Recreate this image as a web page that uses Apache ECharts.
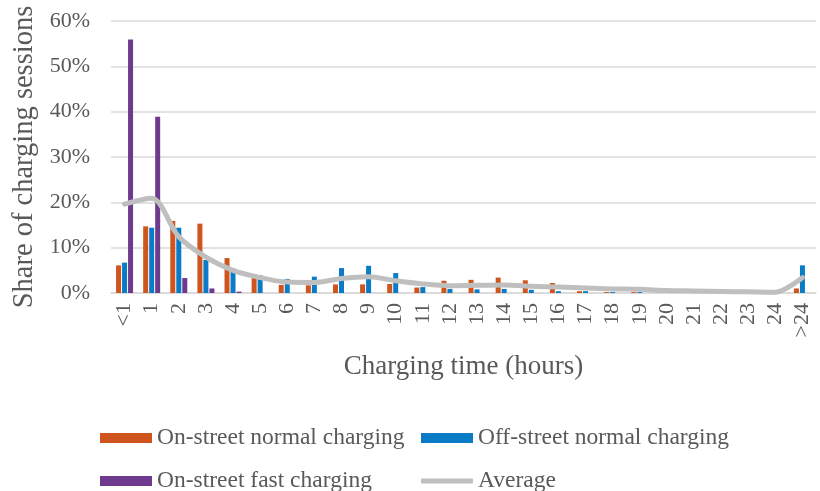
<!DOCTYPE html>
<html>
<head>
<meta charset="utf-8">
<script src="https://cdn.jsdelivr.net/npm/echarts@6/dist/echarts.min.js"></script>
<style>
  html, body { margin: 0; padding: 0; background: #ffffff; }
  #chart { width: 820px; height: 491px; }
</style>
</head>
<body>
<div id="chart"></div>
<script>
// Charging duration buckets (hours)
const categories = ['<1', '1', '2', '3', '4', '5', '6', '7', '8', '9', '10', '11', '12',
  '13', '14', '15', '16', '17', '18', '19', '20', '21', '22', '23', '24', '>24'];

// Share of charging sessions per bucket (%)
const onStreetNormal = [6.1, 14.7, 15.9, 15.3, 7.7, 4.2, 1.8, 1.7, 1.9, 1.9, 2.0, 1.2, 2.7,
  2.9, 3.4, 2.8, 2.2, 0.4, 0.2, 0.2, 0, 0, 0, 0, 0, 1.0];
const offStreetNormal = [6.7, 14.4, 14.4, 7.3, 5.4, 3.9, 3.1, 3.6, 5.5, 6.0, 4.4, 1.3, 0.9,
  0.8, 0.9, 0.7, 0.4, 0.4, 0.2, 0.2, 0, 0, 0, 0, 0, 6.1];
const onStreetFast = [55.9, 38.9, 3.3, 1.0, 0.3, 0, 0, 0, 0, 0, 0, 0, 0,
  0, 0, 0, 0, 0, 0, 0, 0, 0, 0, 0, 0, 0];
const average = [19.6, 20.9, 12.4, 7.9, 5.0, 3.4, 2.4, 2.3, 3.2, 3.6, 2.7, 2.0, 1.6,
  1.7, 1.75, 1.5, 1.3, 1.1, 0.9, 0.8, 0.55, 0.45, 0.35, 0.25, 0.15, 3.4];

const yTicks = { min: 0, max: 60, interval: 10 };

const FONT = '"Liberation Serif", "Times New Roman", serif';
const TEXT = '#595959';
const GRID = '#D9D9D9';
const C_ORANGE = '#CF541D';
const C_BLUE = '#0A7BC6';
const C_PURPLE = '#6E3A8E';
const C_GREY = '#BFBFBF';

const legendText = { fontFamily: FONT, fontSize: 23.5, color: TEXT };
function legendFor(name, left, top, icon, h) {
  return {
    data: [name], left: left, top: top, orient: 'horizontal',
    icon: icon, itemWidth: 52, itemHeight: h, padding: 0,
    textStyle: legendText, selectedMode: false
  };
}

const chart = echarts.init(document.getElementById('chart'), null, { renderer: 'canvas' });
chart.setOption({
  animation: false,
  backgroundColor: '#ffffff',
  grid: { left: 111, right: 4, top: 21, height: 272, containLabel: false },
  legend: [
    legendFor('On-street normal charging', 100, 426, 'rect', 10),
    legendFor('Off-street normal charging', 421, 426, 'rect', 10),
    legendFor('On-street fast charging', 100, 469, 'rect', 10),
    legendFor('Average', 421, 469, 'roundRect', 5)
  ],
  xAxis: {
    type: 'category',
    data: categories,
    boundaryGap: true,
    name: 'Charging time (hours)',
    nameLocation: 'middle',
    nameGap: 60,
    nameTextStyle: { fontFamily: FONT, fontSize: 27, color: TEXT },
    axisLine: { show: true, lineStyle: { color: GRID, width: 1.5 } },
    axisTick: { show: false },
    axisLabel: { rotate: 90, interval: 0, margin: 10, fontFamily: FONT, fontSize: 22, color: TEXT }
  },
  yAxis: {
    type: 'value',
    min: yTicks.min, max: yTicks.max, interval: yTicks.interval,
    name: 'Share of charging sessions',
    nameLocation: 'middle',
    nameGap: 72,
    nameRotate: 90,
    nameTextStyle: { fontFamily: FONT, fontSize: 28.5, color: TEXT },
    axisLine: { show: false },
    axisTick: { show: false },
    splitLine: { lineStyle: { color: GRID, width: 1.5 } },
    axisLabel: { formatter: '{value}%', margin: 21, fontFamily: FONT, fontSize: 22, color: TEXT }
  },
  series: [
    {
      name: 'On-street normal charging', type: 'bar', data: onStreetNormal,
      barWidth: 5, barGap: '20%', itemStyle: { color: C_ORANGE }
    },
    {
      name: 'Off-street normal charging', type: 'bar', data: offStreetNormal,
      barWidth: 5, barGap: '20%', itemStyle: { color: C_BLUE }
    },
    {
      name: 'On-street fast charging', type: 'bar', data: onStreetFast,
      barWidth: 5, barGap: '20%', itemStyle: { color: C_PURPLE }
    },
    {
      name: 'Average', type: 'line', data: average,
      smooth: 0.3, symbol: 'none', z: 5,
      lineStyle: { color: C_GREY, width: 5, cap: 'round', join: 'round' },
      itemStyle: { color: C_GREY }
    }
  ]
});
</script>
</body>
</html>
